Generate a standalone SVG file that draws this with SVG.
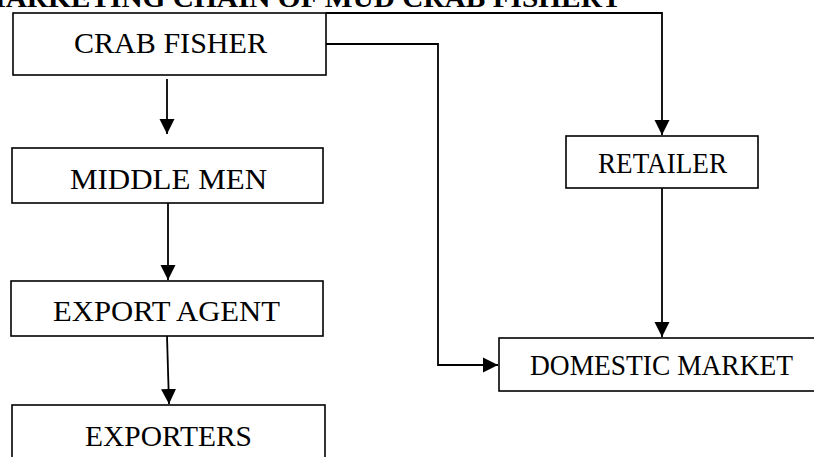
<svg xmlns="http://www.w3.org/2000/svg" width="814" height="457" viewBox="0 0 814 457">
<style>
.box{fill:#fff;stroke:#000;stroke-width:1.6}
.lbl{font-family:"Liberation Serif","Times New Roman",serif;font-size:30px;fill:#000;text-anchor:start}
.title{font-family:"Liberation Serif","Times New Roman",serif;font-size:28px;font-weight:bold;fill:#000}
.con{fill:none;stroke:#000;stroke-width:1.8}
</style>
<defs>
<marker id="ah" markerUnits="userSpaceOnUse" markerWidth="16" markerHeight="16" viewBox="0 0 16 16" refX="15" refY="8" orient="auto">
<path d="M0,0.5 L15,8 L0,15.5 Z" fill="#000"/>
</marker>
</defs>
<rect width="814" height="457" fill="#fff"/>
<text class="title" x="-22" y="7" textLength="644" lengthAdjust="spacingAndGlyphs">MARKETING CHAIN OF MUD CRAB FISHERY</text>
<g id="connectors">
<path class="con" d="M167,79 L167,134" marker-end="url(#ah)"/>
<path class="con" d="M168,203 L168,280" marker-end="url(#ah)"/>
<path class="con" d="M167,336 L169,404" marker-end="url(#ah)"/>
<path class="con" d="M326,44 L438,44 L438,365 L498,365" marker-end="url(#ah)"/>
<path class="con" d="M326,13 L662,13 L662,135" marker-end="url(#ah)"/>
<path class="con" d="M662,188 L662,337" marker-end="url(#ah)"/>
</g>
<g id="crab-fisher">
<rect class="box" x="13" y="13" width="313" height="62"/>
<text class="lbl" x="74" y="53" textLength="193" lengthAdjust="spacingAndGlyphs">CRAB FISHER</text>
</g>
<g id="middle-men">
<rect class="box" x="12" y="148" width="311" height="55"/>
<text class="lbl" x="70" y="189" textLength="197" lengthAdjust="spacingAndGlyphs">MIDDLE MEN</text>
</g>
<g id="export-agent">
<rect class="box" x="11" y="281" width="312" height="55"/>
<text class="lbl" x="53" y="321" textLength="227" lengthAdjust="spacingAndGlyphs">EXPORT AGENT</text>
</g>
<g id="exporters">
<rect class="box" x="12" y="405" width="313" height="70"/>
<text class="lbl" x="85" y="446" textLength="167" lengthAdjust="spacingAndGlyphs">EXPORTERS</text>
</g>
<g id="retailer">
<rect class="box" x="566" y="136" width="192" height="52"/>
<text class="lbl" x="598" y="173" textLength="129" lengthAdjust="spacingAndGlyphs">RETAILER</text>
</g>
<g id="domestic-market">
<rect class="box" x="499" y="338" width="320" height="53"/>
<text class="lbl" x="530" y="375" textLength="263" lengthAdjust="spacingAndGlyphs">DOMESTIC MARKET</text>
</g>
</svg>
